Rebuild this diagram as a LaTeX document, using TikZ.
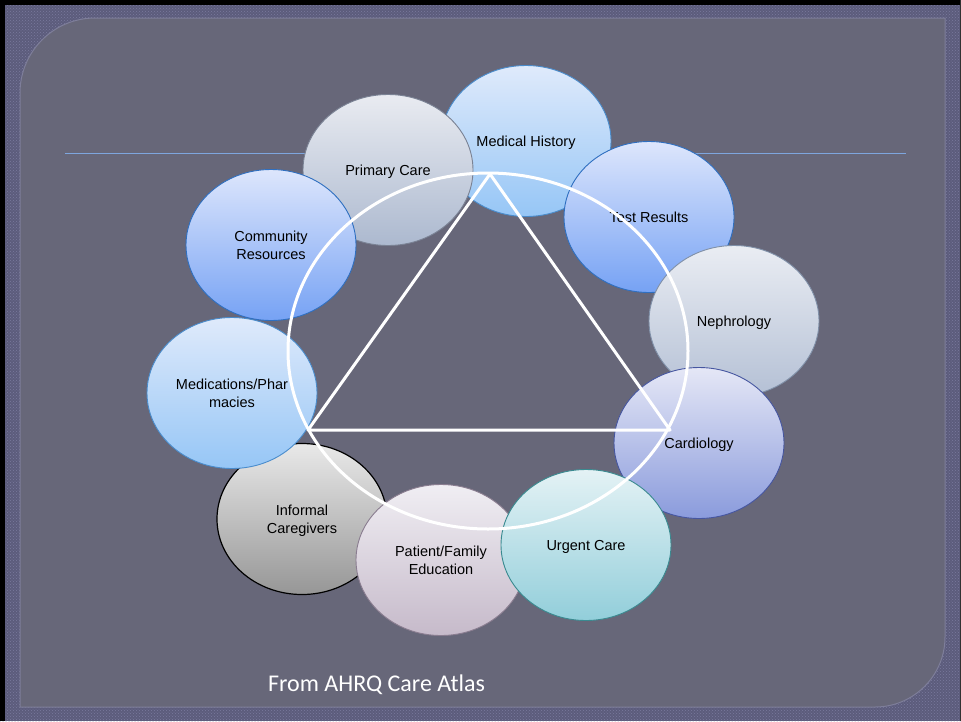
\documentclass[tikz,border=0pt]{standalone}
\usepackage{fontspec}
\setmainfont{Liberation Sans}
\newfontfamily\captionfont{Carlito}
\usetikzlibrary{shapes.geometric,patterns}

\definecolor{framebg}{HTML}{5C5C7C}
\definecolor{framedot}{HTML}{7A7A9E}
\definecolor{panelbg}{HTML}{676779}
\definecolor{paneledge}{HTML}{7E7E9A}
\definecolor{ruleblue}{HTML}{7EA6DE}

\begin{document}
\begin{tikzpicture}[x=1pt,y=-1pt,
  bub/.style={ellipse, minimum width=170pt, minimum height=151pt, inner sep=0pt,
    align=center, line width=0.9pt, text=black, text depth=0pt,
    font=\fontsize{14.5}{18}\selectfont},
  ring/.style={draw=white, line width=3pt},
  caption/.style={text=white, anchor=west, inner sep=0pt,
    font=\captionfont\fontsize{24}{28}\selectfont}]

\useasboundingbox (0,0) rectangle (961,721);

% textured frame
\fill[framebg] (0,0) rectangle (961,721);
\fill[pattern=crosshatch dots, pattern color=framedot] (0,0) rectangle (961,721);
\fill[black] (0,0) rectangle (961,5);
\fill[black] (0,0) rectangle (5,721);
\fill[black!80] (959.5,0) rectangle (961,721);

% slide panel
\filldraw[fill=panelbg, draw=paneledge, line width=1pt]
  (20,707) -- (20,93) arc[start angle=180, end angle=270, radius=75]
  -- (945,18) -- (945,637) arc[start angle=0, end angle=90, radius=70] -- cycle;

% title rule
\draw[ruleblue, line width=1pt] (65,153) -- (906,153);

% bubbles, back to front
\node[bub, top color={rgb,255:red,223;green,234;blue,251}, bottom color={rgb,255:red,150;green,198;blue,246},
  draw={rgb,255:red,74;green,140;blue,204}] (medhist) at (526,141) {Medical History};
\node[bub, top color={rgb,255:red,221;green,230;blue,252}, bottom color={rgb,255:red,118;green,162;blue,244},
  draw={rgb,255:red,47;green,111;blue,192}] (tests) at (649,217) {Test Results};
\node[bub, top color={rgb,255:red,234;green,237;blue,243}, bottom color={rgb,255:red,180;green,192;blue,213},
  draw={rgb,255:red,128;green,144;blue,168}] (nephro) at (734,321) {Nephrology};
\node[bub, top color={rgb,255:red,229;green,231;blue,246}, bottom color={rgb,255:red,138;green,155;blue,220},
  draw={rgb,255:red,70;green,86;blue,160}] (cardio) at (699,443) {Cardiology};
\node[bub, top color={rgb,255:red,233;green,233;blue,233}, bottom color={rgb,255:red,150;green,150;blue,150},
  draw=black, line width=1.2pt] (informal) at (302,519) {Informal\\Caregivers};
\node[bub, top color={rgb,255:red,240;green,238;blue,243}, bottom color={rgb,255:red,198;green,186;blue,202},
  draw={rgb,255:red,138;green,125;blue,144}] (patient) at (441,560) {Patient/Family\\Education};
\node[bub, top color={rgb,255:red,228;green,242;blue,245}, bottom color={rgb,255:red,146;green,206;blue,218},
  draw={rgb,255:red,58;green,138;blue,144}] (urgent) at (586,545) {Urgent Care};
\node[bub, top color={rgb,255:red,223;green,234;blue,251}, bottom color={rgb,255:red,150;green,198;blue,246},
  draw={rgb,255:red,74;green,140;blue,204}] (meds) at (232,393) {Medications/Phar\\macies};
\node[bub, top color={rgb,255:red,233;green,235;blue,241}, bottom color={rgb,255:red,172;green,185;blue,207},
  draw={rgb,255:red,122;green,130;blue,148}] (primary) at (388,170) {Primary Care};
\node[bub, top color={rgb,255:red,221;green,230;blue,252}, bottom color={rgb,255:red,118;green,162;blue,244},
  draw={rgb,255:red,47;green,111;blue,192}] (community) at (271,245) {Community\\Resources};

% white ring and triangle
\coordinate (apex) at (490,174);
\coordinate (left) at (308,430);
\coordinate (right) at (670,430);
\draw[ring] (488,351) ellipse [x radius=200, y radius=178];
\draw[ring, line join=round] (apex) -- (left) -- (right) -- cycle;

% source line
\node[caption] (source) at (268,685) {From AHRQ Care Atlas};

\end{tikzpicture}
\end{document}
